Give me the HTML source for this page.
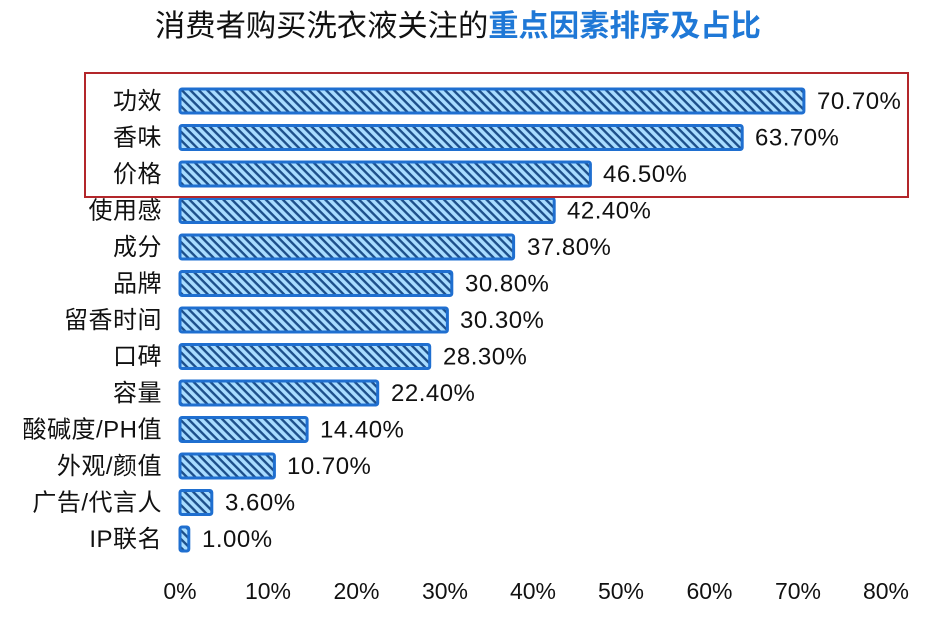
<!DOCTYPE html>
<html><head><meta charset="utf-8"><style>
html,body{margin:0;padding:0;background:#fff;}
svg{display:block;font-family:"Liberation Sans","Noto Sans CJK SC",sans-serif;}
</style></head><body>
<svg width="934" height="624" viewBox="0 0 934 624" xmlns="http://www.w3.org/2000/svg">
<defs>
<pattern id="h" width="6" height="6" patternUnits="userSpaceOnUse" patternTransform="rotate(45)">
<rect width="6" height="6" fill="#a8dcff"/>
<rect width="6" height="2.4" fill="#1d4f8a"/>
</pattern>
</defs>
<text x="155" y="36" font-size="30.3" fill="#111">消费者购买洗衣液关注的<tspan fill="#1f78d6" font-weight="bold">重点因素排序及占比</tspan></text>
<g fill="url(#h)" stroke="#1f6fd0" stroke-width="3">
<rect x="180" y="89" width="623.9" height="24" rx="2"/>
<rect x="180" y="125.5" width="562.2" height="24" rx="2"/>
<rect x="180" y="162" width="410.4" height="24" rx="2"/>
<rect x="180" y="198.5" width="374.2" height="24" rx="2"/>
<rect x="180" y="235" width="333.6" height="24" rx="2"/>
<rect x="180" y="271.5" width="271.8" height="24" rx="2"/>
<rect x="180" y="308" width="267.4" height="24" rx="2"/>
<rect x="180" y="344.5" width="249.7" height="24" rx="2"/>
<rect x="180" y="381" width="197.7" height="24" rx="2"/>
<rect x="180" y="417.5" width="127.1" height="24" rx="2"/>
<rect x="180" y="454" width="94.4" height="24" rx="2"/>
<rect x="180" y="490.5" width="31.8" height="24" rx="2"/>
<rect x="180" y="527" width="8.8" height="24" rx="2"/>
</g>
<g font-size="24" fill="#111" text-anchor="end" letter-spacing="0.5">
<text x="162" y="109">功效</text>
<text x="162" y="145.5">香味</text>
<text x="162" y="182">价格</text>
<text x="162" y="218.5">使用感</text>
<text x="162" y="255">成分</text>
<text x="162" y="291.5">品牌</text>
<text x="162" y="328">留香时间</text>
<text x="162" y="364.5">口碑</text>
<text x="162" y="401">容量</text>
<text x="162" y="437.5">酸碱度/PH值</text>
<text x="162" y="474">外观/颜值</text>
<text x="162" y="510.5">广告/代言人</text>
<text x="162" y="547">IP联名</text>
</g>
<g font-size="24" fill="#111" letter-spacing="0.5">
<text x="817" y="109">70.70%</text>
<text x="755" y="145.5">63.70%</text>
<text x="603" y="182">46.50%</text>
<text x="567" y="218.5">42.40%</text>
<text x="527" y="255">37.80%</text>
<text x="465" y="291.5">30.80%</text>
<text x="460" y="328">30.30%</text>
<text x="443" y="364.5">28.30%</text>
<text x="391" y="401">22.40%</text>
<text x="320" y="437.5">14.40%</text>
<text x="287" y="474">10.70%</text>
<text x="225" y="510.5">3.60%</text>
<text x="202" y="547">1.00%</text>
</g>
<rect x="85" y="73" width="823" height="124" fill="none" stroke="#b3262a" stroke-width="2"/>
<g font-size="23" fill="#111" text-anchor="middle">
<text x="180" y="599">0%</text><text x="268" y="599">10%</text><text x="356.5" y="599">20%</text><text x="445" y="599">30%</text><text x="533" y="599">40%</text><text x="621" y="599">50%</text><text x="709.5" y="599">60%</text><text x="798" y="599">70%</text><text x="886" y="599">80%</text>
</g>
</svg>
</body></html>
